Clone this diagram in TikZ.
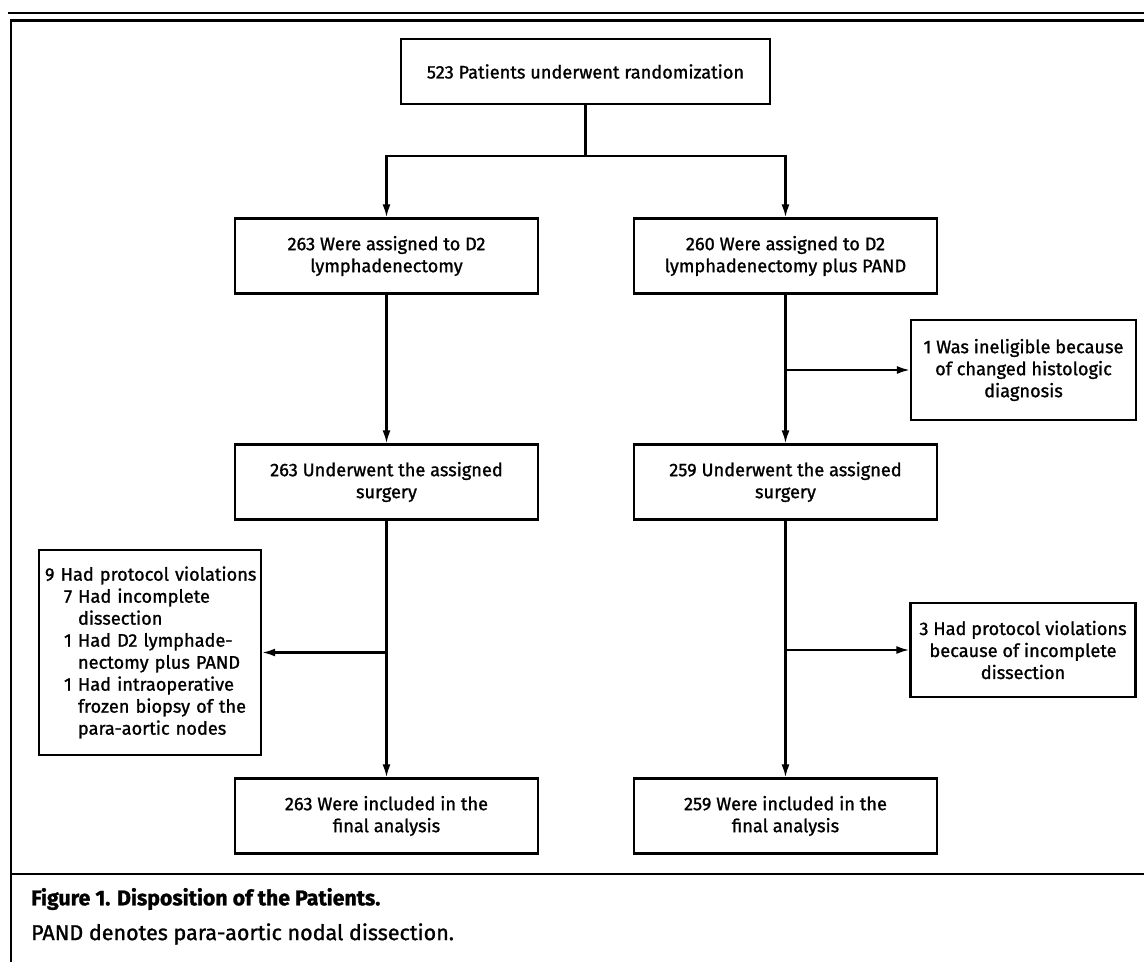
\documentclass[tikz,border=0pt]{standalone}
\usepackage{fontspec}
\setmainfont{Fira Sans}[FakeBold=1.2]
\usetikzlibrary{arrows.meta}

\begin{document}
\begin{tikzpicture}[x=1pt,y=-1pt,
  every node/.style={font=\fontsize{18.2}{22}\selectfont},
  box/.style={draw, line width=2.2pt, align=center, inner sep=0pt},
  mainbox/.style={box, minimum width=303pt, minimum height=75pt},
  sidebox/.style={box, minimum width=225pt},
  arr/.style={line width=2.2pt, -{Latex[length=13pt,width=8pt]}},
  caption/.style={anchor=west, inner sep=0pt, font=\fontsize{21.5}{24}\selectfont}]
  \useasboundingbox (0,0) rectangle (1144,962);
  \draw[line width=1.4pt] (8,13) -- (1144,13);
  \draw[line width=2.8pt] (10,20.5) -- (1144,20.5);
  \draw[line width=2.4pt] (11,20.5) -- (11,962);
  \draw[line width=2.8pt] (11,874) -- (1144,874);

  \node[box, minimum width=369pt, minimum height=65pt] (rand) at (585.5,71.5) {523 Patients underwent randomization};
  \node[mainbox] (assignA) at (386.5,256) {263 Were assigned to D2\\lymphadenectomy};
  \node[mainbox] (assignB) at (785.5,256) {260 Were assigned to D2\\lymphadenectomy plus PAND};
  \node[sidebox, minimum height=100pt] (inelig) at (1023.5,370) {1 Was ineligible because\\of changed histologic\\diagnosis};
  \node[mainbox] (surgA) at (386.5,482) {263 Underwent the assigned\\surgery};
  \node[mainbox] (surgB) at (785.5,482) {259 Underwent the assigned\\surgery};
  \node[box, text width=216pt, align=left, inner xsep=3pt, minimum height=205pt] (violA) at (150,652.5) {\hspace*{3pt}9 Had protocol violations\\
    \hspace*{22pt}7 Had incomplete\\
    \hspace*{36pt}dissection\\
    \hspace*{22pt}1 Had D2 lymphade-\\
    \hspace*{36pt}nectomy plus PAND\\
    \hspace*{22pt}1 Had intraoperative\\
    \hspace*{36pt}frozen biopsy of the\\
    \hspace*{36pt}para-aortic nodes};
  \node[sidebox, minimum height=94pt] (violB) at (1023,650) {3 Had protocol violations\\because of incomplete\\dissection};
  \node[mainbox] (finalA) at (386.5,816) {263 Were included in the\\final analysis};
  \node[mainbox] (finalB) at (785.5,816) {259 Were included in the\\final analysis};

  \node[caption, font=\bfseries\fontsize{21.3}{24}\selectfont] (figtitle) at (31,899) {Figure 1. Disposition of the Patients.};
  \node[caption] (fignote) at (31,934) {PAND denotes para-aortic nodal dissection.};

  \draw[line width=2.2pt] (rand.south) -- ++(0,51) coordinate (split);
  \draw[arr] (split) -| (assignA.north);
  \draw[arr] (split) -| (assignB.north);
  \draw[arr] (assignA) -- (surgA);
  \draw[arr] (assignB) -- (surgB);
  \draw[arr] (assignB.south |- inelig.west) -- (inelig.west);
  \draw[arr] (surgA) -- (finalA);
  \draw[arr] (surgB) -- (finalB);
  \draw[arr] (surgA.south |- violA.east) -- (violA.east);
  \draw[arr] (surgB.south |- violB.west) -- (violB.west);
\end{tikzpicture}
\end{document}
